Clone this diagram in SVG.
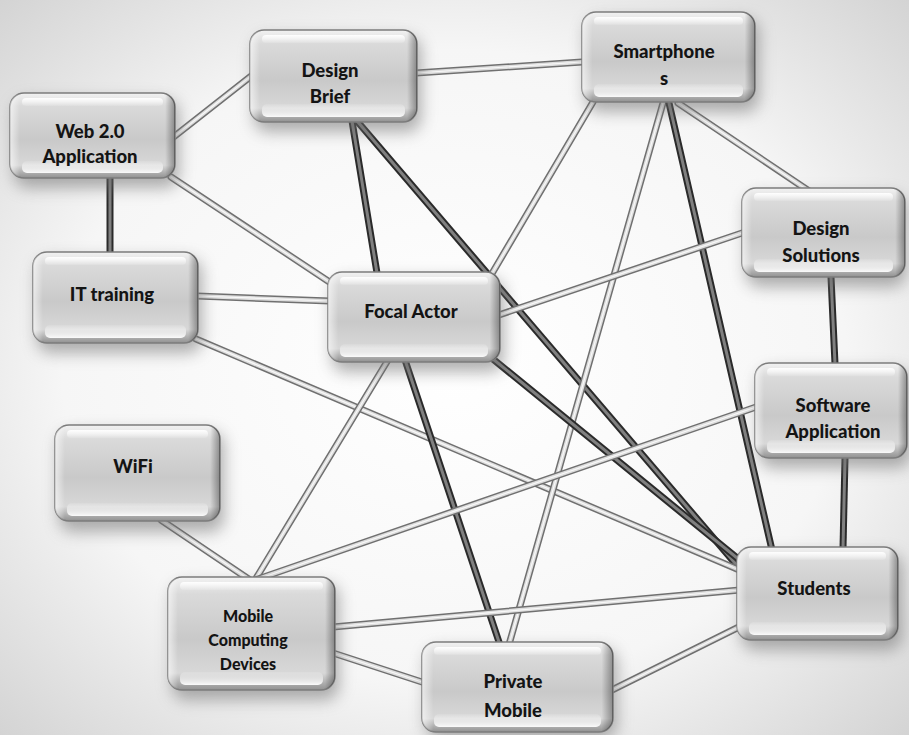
<svg xmlns="http://www.w3.org/2000/svg" xmlns:xlink="http://www.w3.org/1999/xlink" width="909" height="735" viewBox="0 0 909 735">
  <defs>
    <radialGradient id="bg" cx="50%" cy="50%" r="72%">
      <stop offset="0" stop-color="#ffffff"/>
      <stop offset="0.6" stop-color="#f6f6f6"/>
      <stop offset="1" stop-color="#d2d2d2"/>
    </radialGradient>
    <linearGradient id="body" x1="0" y1="0" x2="0" y2="1">
      <stop offset="0" stop-color="#f2f2f2"/>
      <stop offset="0.15" stop-color="#dadada"/>
      <stop offset="0.55" stop-color="#c9c9c9"/>
      <stop offset="0.85" stop-color="#d8d8d8"/>
      <stop offset="1" stop-color="#919191"/>
    </linearGradient>
    <linearGradient id="edge" x1="0" y1="0" x2="1" y2="0">
      <stop offset="0" stop-color="#ffffff" stop-opacity="0.6"/>
      <stop offset="0.06" stop-color="#ffffff" stop-opacity="0"/>
      <stop offset="0.94" stop-color="#000000" stop-opacity="0"/>
      <stop offset="1" stop-color="#000000" stop-opacity="0.35"/>
    </linearGradient>
    <linearGradient id="hiTop" x1="0" y1="0" x2="0" y2="1">
      <stop offset="0" stop-color="#ffffff" stop-opacity="0.95"/>
      <stop offset="1" stop-color="#ffffff" stop-opacity="0.1"/>
    </linearGradient>
    <linearGradient id="hiBot" x1="0" y1="0" x2="0" y2="1">
      <stop offset="0" stop-color="#ffffff" stop-opacity="0.1"/>
      <stop offset="1" stop-color="#ffffff" stop-opacity="0.95"/>
    </linearGradient>
    <filter id="shadow" x="-30%" y="-30%" width="160%" height="170%">
      <feGaussianBlur stdDeviation="8"/>
    </filter>
    <style>
      .shadow { fill: #6e6e6e; opacity: 0.55; filter: url(#shadow); }
      .box { fill: url(#body); stroke: #7c7c7c; stroke-width: 1.5; }
      .edge { fill: url(#edge); }
      .hiT { fill: url(#hiTop); }
      .hiB { fill: url(#hiBot); }
      .label { font-family: Lato, "Open Sans", "Liberation Sans", sans-serif; font-weight: 900; font-size: 18.5px; fill: #141414; text-anchor: middle; }
      .small { font-size: 16px; }
      .tubeOut { stroke: #707070; stroke-width: 7; stroke-linecap: round; fill: none; }
      .tubeIn { stroke: #dedede; stroke-width: 4; stroke-linecap: round; fill: none; }
      .tubeHi { stroke: #ffffff; stroke-width: 1.2; stroke-linecap: round; fill: none; opacity: 0.8; }
      .darkOut { stroke: #2a2a2a; stroke-width: 7; stroke-linecap: round; fill: none; }
      .darkIn { stroke: #808080; stroke-width: 3; stroke-linecap: round; fill: none; }
    </style>
    <!-- connector paths -->
    <path id="c1" d="M171,139 L255,73"/>
    <path id="c2" d="M110,177 L110,253"/>
    <path id="c3" d="M171,177 L334,285"/>
    <path id="c4" d="M416,73 L582,62"/>
    <path id="c5" d="M352,121 L377,273"/>
    <path id="c6" d="M357,121 L746,576"/>
    <path id="c7" d="M197,296 L330,301"/>
    <path id="c8" d="M196,339 L744,572"/>
    <path id="c9" d="M593,102 L487,282"/>
    <path id="c10" d="M663,103 L508,648"/>
    <path id="c11" d="M669,103 L772,550"/>
    <path id="c12" d="M678,103 L809,191"/>
    <path id="c13" d="M490,318 L748,231"/>
    <path id="c14" d="M388,360 L255,580"/>
    <path id="c15" d="M405,360 L500,645"/>
    <path id="c16" d="M488,355 L742,562"/>
    <path id="c17" d="M831,277 L835,364"/>
    <path id="c18" d="M759,406 L255,580"/>
    <path id="c19" d="M845,458 L843,548"/>
    <path id="c20" d="M161,520 L250,580"/>
    <path id="c21" d="M333,627 L740,590"/>
    <path id="c22" d="M333,653 L425,683"/>
    <path id="c23" d="M612,690 L743,625"/>
  </defs>

  <rect width="909" height="735" fill="url(#bg)"/>

  <g id="connectors">
    <use xlink:href="#c1" class="tubeOut"/><use xlink:href="#c1" class="tubeIn"/><use xlink:href="#c1" class="tubeHi"/>
    <use xlink:href="#c2" class="darkOut"/><use xlink:href="#c2" class="darkIn"/>
    <use xlink:href="#c3" class="tubeOut"/><use xlink:href="#c3" class="tubeIn"/><use xlink:href="#c3" class="tubeHi"/>
    <use xlink:href="#c4" class="tubeOut"/><use xlink:href="#c4" class="tubeIn"/><use xlink:href="#c4" class="tubeHi"/>
    <use xlink:href="#c5" class="darkOut"/><use xlink:href="#c5" class="darkIn"/>
    <use xlink:href="#c6" class="darkOut"/><use xlink:href="#c6" class="darkIn"/>
    <use xlink:href="#c7" class="tubeOut"/><use xlink:href="#c7" class="tubeIn"/><use xlink:href="#c7" class="tubeHi"/>
    <use xlink:href="#c8" class="tubeOut"/><use xlink:href="#c8" class="tubeIn"/><use xlink:href="#c8" class="tubeHi"/>
    <use xlink:href="#c9" class="tubeOut"/><use xlink:href="#c9" class="tubeIn"/><use xlink:href="#c9" class="tubeHi"/>
    <use xlink:href="#c10" class="tubeOut"/><use xlink:href="#c10" class="tubeIn"/><use xlink:href="#c10" class="tubeHi"/>
    <use xlink:href="#c11" class="darkOut"/><use xlink:href="#c11" class="darkIn"/>
    <use xlink:href="#c12" class="tubeOut"/><use xlink:href="#c12" class="tubeIn"/><use xlink:href="#c12" class="tubeHi"/>
    <use xlink:href="#c13" class="tubeOut"/><use xlink:href="#c13" class="tubeIn"/><use xlink:href="#c13" class="tubeHi"/>
    <use xlink:href="#c14" class="tubeOut"/><use xlink:href="#c14" class="tubeIn"/><use xlink:href="#c14" class="tubeHi"/>
    <use xlink:href="#c15" class="darkOut"/><use xlink:href="#c15" class="darkIn"/>
    <use xlink:href="#c16" class="darkOut"/><use xlink:href="#c16" class="darkIn"/>
    <use xlink:href="#c17" class="darkOut"/><use xlink:href="#c17" class="darkIn"/>
    <use xlink:href="#c18" class="tubeOut"/><use xlink:href="#c18" class="tubeIn"/><use xlink:href="#c18" class="tubeHi"/>
    <use xlink:href="#c19" class="darkOut"/><use xlink:href="#c19" class="darkIn"/>
    <use xlink:href="#c20" class="tubeOut"/><use xlink:href="#c20" class="tubeIn"/><use xlink:href="#c20" class="tubeHi"/>
    <use xlink:href="#c21" class="tubeOut"/><use xlink:href="#c21" class="tubeIn"/><use xlink:href="#c21" class="tubeHi"/>
    <use xlink:href="#c22" class="tubeOut"/><use xlink:href="#c22" class="tubeIn"/><use xlink:href="#c22" class="tubeHi"/>
    <use xlink:href="#c23" class="tubeOut"/><use xlink:href="#c23" class="tubeIn"/><use xlink:href="#c23" class="tubeHi"/>
  </g>

  <g id="web20">
    <rect class="shadow" x="14" y="100" width="165" height="88" rx="14"/>
    <rect class="box" x="10" y="93" width="165" height="85" rx="14"/>
    <rect class="edge" x="10" y="93" width="165" height="85" rx="14"/>
    <rect class="hiT" x="22" y="98" width="141" height="8" rx="4"/>
    <rect class="hiB" x="22" y="161" width="141" height="12" rx="5"/>
    <text class="label" x="90" y="138">Web 2.0</text>
    <text class="label" x="90" y="163">Application</text>
  </g>

  <g id="designBrief">
    <rect class="shadow" x="254" y="37" width="167" height="95" rx="14"/>
    <rect class="box" x="250" y="30" width="167" height="92" rx="14"/>
    <rect class="edge" x="250" y="30" width="167" height="92" rx="14"/>
    <rect class="hiT" x="262" y="35" width="143" height="8" rx="4"/>
    <rect class="hiB" x="262" y="104" width="143" height="13" rx="5"/>
    <text class="label" x="330" y="77">Design</text>
    <text class="label" x="330" y="103">Brief</text>
  </g>

  <g id="smartphones">
    <rect class="shadow" x="586" y="19" width="173" height="93" rx="14"/>
    <rect class="box" x="582" y="12" width="173" height="90" rx="14"/>
    <rect class="edge" x="582" y="12" width="173" height="90" rx="14"/>
    <rect class="hiT" x="594" y="17" width="149" height="8" rx="4"/>
    <rect class="hiB" x="594" y="84" width="149" height="13" rx="5"/>
    <text class="label" x="664" y="58">Smartphone</text>
    <text class="label" x="664" y="85">s</text>
  </g>

  <g id="designSolutions">
    <rect class="shadow" x="746" y="195" width="160" height="92" rx="14"/>
    <rect class="box" x="742" y="188" width="163" height="89" rx="14"/>
    <rect class="edge" x="742" y="188" width="163" height="89" rx="14"/>
    <rect class="hiT" x="754" y="193" width="139" height="8" rx="4"/>
    <rect class="hiB" x="754" y="259" width="139" height="13" rx="5"/>
    <text class="label" x="821" y="235">Design</text>
    <text class="label" x="821" y="262">Solutions</text>
  </g>

  <g id="itTraining">
    <rect class="shadow" x="37" y="259" width="165" height="94" rx="14"/>
    <rect class="box" x="33" y="252" width="165" height="91" rx="14"/>
    <rect class="edge" x="33" y="252" width="165" height="91" rx="14"/>
    <rect class="hiT" x="45" y="257" width="141" height="8" rx="4"/>
    <rect class="hiB" x="45" y="325" width="141" height="13" rx="5"/>
    <text class="label" x="112" y="301">IT training</text>
  </g>

  <g id="focalActor">
    <rect class="shadow" x="332" y="279" width="172" height="93" rx="14"/>
    <rect class="box" x="328" y="272" width="172" height="90" rx="14"/>
    <rect class="edge" x="328" y="272" width="172" height="90" rx="14"/>
    <rect class="hiT" x="340" y="277" width="148" height="8" rx="4"/>
    <rect class="hiB" x="340" y="344" width="148" height="13" rx="5"/>
    <text class="label" x="411" y="318">Focal Actor</text>
  </g>

  <g id="softwareApplication">
    <rect class="shadow" x="759" y="370" width="152" height="98" rx="14"/>
    <rect class="box" x="755" y="363" width="152" height="95" rx="14"/>
    <rect class="edge" x="755" y="363" width="152" height="95" rx="14"/>
    <rect class="hiT" x="767" y="368" width="128" height="8" rx="4"/>
    <rect class="hiB" x="767" y="440" width="128" height="13" rx="5"/>
    <text class="label" x="833" y="412">Software</text>
    <text class="label" x="833" y="438">Application</text>
  </g>

  <g id="wifi">
    <rect class="shadow" x="59" y="432" width="165" height="100" rx="14"/>
    <rect class="box" x="55" y="425" width="165" height="96" rx="14"/>
    <rect class="edge" x="55" y="425" width="165" height="96" rx="14"/>
    <rect class="hiT" x="67" y="430" width="141" height="8" rx="4"/>
    <rect class="hiB" x="67" y="503" width="141" height="13" rx="5"/>
    <text class="label" x="133" y="473">WiFi</text>
  </g>

  <g id="mobileDevices">
    <rect class="shadow" x="172" y="584" width="167" height="116" rx="14"/>
    <rect class="box" x="168" y="577" width="167" height="113" rx="14"/>
    <rect class="edge" x="168" y="577" width="167" height="113" rx="14"/>
    <rect class="hiT" x="180" y="582" width="143" height="8" rx="4"/>
    <rect class="hiB" x="180" y="672" width="143" height="13" rx="5"/>
    <text class="label small" x="248" y="622">Mobile</text>
    <text class="label small" x="248" y="646">Computing</text>
    <text class="label small" x="248" y="670">Devices</text>
  </g>

  <g id="students">
    <rect class="shadow" x="741" y="554" width="161" height="96" rx="14"/>
    <rect class="box" x="737" y="547" width="161" height="93" rx="14"/>
    <rect class="edge" x="737" y="547" width="161" height="93" rx="14"/>
    <rect class="hiT" x="749" y="552" width="137" height="8" rx="4"/>
    <rect class="hiB" x="749" y="622" width="137" height="13" rx="5"/>
    <text class="label" x="814" y="595">Students</text>
  </g>

  <g id="privateMobile">
    <rect class="shadow" x="426" y="649" width="191" height="90" rx="14"/>
    <rect class="box" x="422" y="642" width="191" height="90" rx="14"/>
    <rect class="edge" x="422" y="642" width="191" height="90" rx="14"/>
    <rect class="hiT" x="434" y="647" width="167" height="8" rx="4"/>
    <rect class="hiB" x="434" y="714" width="167" height="13" rx="5"/>
    <text class="label" x="513" y="688">Private</text>
    <text class="label" x="513" y="717">Mobile</text>
  </g>
</svg>
